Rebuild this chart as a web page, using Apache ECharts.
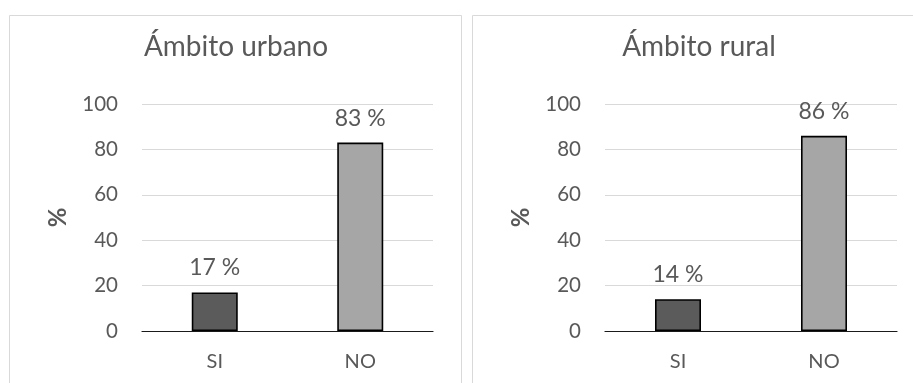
<!DOCTYPE html>
<html>
<head>
<meta charset="utf-8">
<script src="https://cdn.jsdelivr.net/npm/echarts@6/dist/echarts.min.js"></script>
<style>
  html, body { margin: 0; padding: 0; background: #fff; }
  #chart { width: 913px; height: 383px; }
</style>
</head>
<body>
<div id="chart"></div>
<script>
// Respuestas por ámbito (porcentaje)
const categories = ['SI', 'NO'];
const urbanValues = [17, 83];
const ruralValues = [14, 86];
const panelTitles = ['Ámbito urbano', 'Ámbito rural'];
const yTicks = { min: 0, max: 100, interval: 20 };

const FONT = 'Lato, "Open Sans", sans-serif';
const TEXT = '#595959';
const barColors = ['#5b5b5b', '#a6a6a6'];

const chart = echarts.init(document.getElementById('chart'), null, { renderer: 'canvas' });

function makeYAxis(gridIndex) {
  return {
    gridIndex,
    type: 'value',
    min: yTicks.min, max: yTicks.max, interval: yTicks.interval,
    name: '%',
    nameLocation: 'middle',
    nameRotate: 90,
    nameGap: 72,
    nameTextStyle: { color: TEXT, fontSize: 24, fontWeight: 'bold', fontFamily: FONT },
    axisLine: { show: false },
    axisTick: { show: false },
    axisLabel: { color: TEXT, fontSize: 20.5, fontFamily: FONT, margin: 24 },
    splitLine: { lineStyle: { color: '#d9d9d9', width: 1 } }
  };
}

function makeXAxis(gridIndex) {
  return {
    gridIndex,
    type: 'category',
    data: categories,
    axisLine: { lineStyle: { color: '#1a1a1a', width: 1.2 } },
    axisTick: { show: false },
    axisLabel: { color: TEXT, fontSize: 20, fontFamily: FONT, margin: 21 }
  };
}

function makeSeries(idx, values) {
  return {
    type: 'bar',
    xAxisIndex: idx, yAxisIndex: idx,
    barWidth: 46,
    data: values.map((v, i) => ({
      value: v,
      itemStyle: { color: barColors[i], borderColor: '#000', borderWidth: 1.6 }
    })),
    label: {
      show: true, position: 'top', distance: 13,
      formatter: p => p.value + ' %',
      color: TEXT, fontSize: 23, fontFamily: FONT
    }
  };
}

chart.setOption({
  animation: false,
  backgroundColor: '#fff',
  graphic: [
    { type: 'rect', shape: { x: 9.5, y: 15.5, width: 452, height: 420 },
      style: { fill: 'none', stroke: '#d9d9d9', lineWidth: 1 }, silent: true },
    { type: 'rect', shape: { x: 472.5, y: 15.5, width: 460, height: 420 },
      style: { fill: 'none', stroke: '#d9d9d9', lineWidth: 1 }, silent: true }
  ],
  title: [
    { text: panelTitles[0], left: 231, top: 28, textAlign: 'center',
      textStyle: { color: TEXT, fontSize: 28, fontWeight: 'normal', fontFamily: FONT } },
    { text: panelTitles[1], left: 694, top: 28, textAlign: 'center',
      textStyle: { color: TEXT, fontSize: 28, fontWeight: 'normal', fontFamily: FONT } }
  ],
  grid: [
    { left: 142, right: 480, top: 104, bottom: 52 },
    { left: 605, right: 16, top: 104, bottom: 52 }
  ],
  xAxis: [makeXAxis(0), makeXAxis(1)],
  yAxis: [makeYAxis(0), makeYAxis(1)],
  series: [makeSeries(0, urbanValues), makeSeries(1, ruralValues)]
});
</script>
</body>
</html>
